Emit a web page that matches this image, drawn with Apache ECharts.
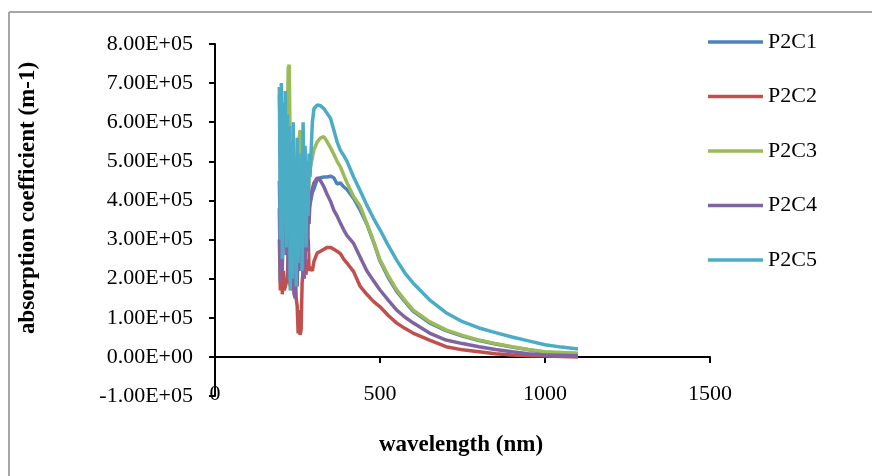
<!DOCTYPE html>
<html>
<head>
<meta charset="utf-8">
<script src="https://cdn.jsdelivr.net/npm/echarts@6/dist/echarts.min.js"></script>
<style>
  html, body { margin: 0; padding: 0; background: #fff; }
  #chart { width: 872px; height: 476px; }
</style>
</head>
<body>
<div id="chart"></div>
<script>
// wavelength (nm): dense part in the noisy UV region, then coarser
var wavelength = [
  195, 198, 201, 204, 207, 210, 213, 216, 219, 222, 225, 228, 231, 234, 237, 240,
  243, 246, 249, 252, 255, 258, 261, 264, 267, 270, 273, 276, 279, 282, 285, 288,
  295, 300, 310, 320, 330, 340, 350, 360, 370, 380, 390, 400, 420, 440, 460, 480,
  500, 525, 550, 575, 600, 650, 700, 750, 800, 850, 900, 950, 1000, 1050, 1100
];

var seriesNames = ['P2C1', 'P2C2', 'P2C3', 'P2C4', 'P2C5'];

// absorption coefficient (m-1)
var p2c1 = [
  4.5e5, 3.0e5, 4.2e5, 2.5e5, 4.0e5, 3.2e5, 4.4e5, 2.6e5, 3.9e5, 3.1e5, 4.3e5, 2.4e5, 3.6e5, 2.2e5, 3.8e5, 2.9e5,
  3.5e5, 2.0e5, 3.3e5, 2.6e5, 3.9e5, 2.8e5, 3.6e5, 3.0e5, 3.4e5, 2.7e5, 3.5e5, 3.1e5, 3.7e5, 3.3e5, 3.8e5, 3.9e5,
  4.2e5, 4.3e5, 4.55e5, 4.58e5, 4.6e5, 4.6e5, 4.62e5, 4.58e5, 4.42e5, 4.45e5, 4.35e5, 4.28e5, 4.05e5, 3.75e5, 3.4e5, 2.95e5,
  2.45e5, 2.03e5, 1.68e5, 1.42e5, 1.17e5, 0.87e5, 0.67e5, 0.53e5, 0.42e5, 0.33e5, 0.25e5, 0.18e5, 0.12e5, 0.1e5, 0.08e5
];
var p2c2 = [
  3.0e5, 1.7e5, 2.4e5, 1.6e5, 2.2e5, 1.7e5, 1.65e5, 1.7e5, 2.0e5, 2.6e5, 2.0e5, 1.8e5, 2.6e5, 1.7e5, 2.1e5, 1.6e5,
  2.2e5, 1.5e5, 1.3e5, 0.6e5, 1.2e5, 0.56e5, 0.7e5, 1.9e5, 2.2e5, 2.0e5, 2.4e5, 2.1e5, 3.0e5, 3.2e5, 2.2e5, 2.3e5,
  2.2e5, 2.45e5, 2.66e5, 2.7e5, 2.75e5, 2.8e5, 2.8e5, 2.75e5, 2.7e5, 2.64e5, 2.5e5, 2.4e5, 2.18e5, 1.8e5, 1.6e5, 1.42e5,
  1.28e5, 1.06e5, 0.87e5, 0.73e5, 0.61e5, 0.43e5, 0.26e5, 0.18e5, 0.13e5, 0.08e5, 0.05e5, 0.03e5, 0.02e5, 0.01e5, 0
];
var p2c3 = [
  6.7e5, 5.5e5, 6.2e5, 4.8e5, 5.8e5, 4.2e5, 5.5e5, 3.8e5, 6.0e5, 7.4e5, 7.47e5, 5.0e5, 4.0e5, 2.8e5, 4.5e5, 3.5e5,
  5.0e5, 3.2e5, 5.2e5, 4.0e5, 5.6e5, 5.8e5, 5.75e5, 5.1e5, 4.6e5, 2.6e5, 3.8e5, 2.5e5, 4.2e5, 3.0e5, 4.6e5, 4.8e5,
  5.1e5, 5.3e5, 5.5e5, 5.6e5, 5.63e5, 5.5e5, 5.35e5, 5.18e5, 5.0e5, 4.86e5, 4.65e5, 4.45e5, 4.1e5, 3.85e5, 3.42e5, 2.97e5,
  2.48e5, 2.08e5, 1.72e5, 1.45e5, 1.2e5, 0.9e5, 0.69e5, 0.55e5, 0.43e5, 0.34e5, 0.26e5, 0.19e5, 0.13e5, 0.11e5, 0.09e5
];
var p2c4 = [
  3.8e5, 1.9e5, 4.0e5, 2.2e5, 4.2e5, 2.8e5, 4.5e5, 3.0e5, 4.3e5, 2.0e5, 3.8e5, 2.4e5, 3.5e5, 1.8e5, 3.2e5, 1.6e5,
  1.5e5, 2.8e5, 1.8e5, 3.0e5, 2.2e5, 3.4e5, 2.5e5, 3.2e5, 2.0e5, 2.9e5, 2.4e5, 3.5e5, 2.7e5, 3.6e5, 3.4e5, 4.0e5,
  4.3e5, 4.45e5, 4.58e5, 4.5e5, 4.35e5, 4.15e5, 3.98e5, 3.75e5, 3.6e5, 3.42e5, 3.25e5, 3.1e5, 2.9e5, 2.55e5, 2.2e5, 1.95e5,
  1.71e5, 1.45e5, 1.2e5, 1.02e5, 0.87e5, 0.61e5, 0.43e5, 0.34e5, 0.26e5, 0.19e5, 0.13e5, 0.08e5, 0.05e5, 0.04e5, 0.03e5
];
var p2c5 = [
  6.9e5, 3.0e5, 7.0e5, 2.5e5, 6.5e5, 3.5e5, 6.8e5, 2.8e5, 6.2e5, 3.2e5, 5.9e5, 1.7e5, 5.5e5, 2.0e5, 6.0e5, 2.6e5,
  5.0e5, 1.8e5, 5.6e5, 2.4e5, 4.9e5, 3.0e5, 5.2e5, 2.2e5, 6.0e5, 3.5e5, 5.4e5, 2.8e5, 5.0e5, 3.6e5, 5.2e5, 4.6e5,
  6.0e5, 6.35e5, 6.44e5, 6.42e5, 6.35e5, 6.22e5, 6.1e5, 5.8e5, 5.5e5, 5.28e5, 5.15e5, 5.0e5, 4.6e5, 4.25e5, 3.88e5, 3.55e5,
  3.25e5, 2.85e5, 2.48e5, 2.15e5, 1.89e5, 1.46e5, 1.13e5, 0.9e5, 0.74e5, 0.62e5, 0.51e5, 0.41e5, 0.31e5, 0.25e5, 0.2e5
];

var colors = ['#4F81BD', '#C0504D', '#9BBB59', '#8064A2', '#4BACC6'];
var values = [p2c1, p2c2, p2c3, p2c4, p2c5];

function sci(v) {
  if (v === 0) return '0.00E+00';
  var e = Math.floor(Math.log10(Math.abs(v)));
  var m = v / Math.pow(10, e);
  return m.toFixed(2) + 'E+' + String(e).padStart(2, '0');
}

var series = seriesNames.map(function (name, i) {
  return {
    name: name,
    type: 'line',
    symbol: 'none',
    lineStyle: { width: 3.5, color: colors[i] },
    itemStyle: { color: colors[i] },
    data: wavelength.map(function (w, k) { return [w, values[i][k]]; })
  };
});

var font = 'Liberation Serif';
var chart = echarts.init(document.getElementById('chart'));
chart.setOption({
  backgroundColor: '#fff',
  animation: false,
  color: colors,
  grid: { left: 215, right: 162, top: 44, bottom: 80 },
  legend: {
    orient: 'vertical',
    left: 703,
    top: 26,
    itemWidth: 55,
    itemHeight: 22,
    itemGap: 32.5,
    icon: 'path://M0,0 L55,0 L55,3.5 L0,3.5 Z',
    symbolKeepAspect: true,
    textStyle: { fontFamily: font, fontSize: 22, color: '#000', lineHeight: 22 },
    data: seriesNames
  },
  xAxis: {
    type: 'value',
    min: 0,
    max: 1500,
    interval: 500,
    axisLine: { onZero: true, lineStyle: { color: '#000', width: 2 } },
    axisTick: { show: true, length: 6, lineStyle: { color: '#000', width: 2 } },
    axisLabel: {
      margin: -13, fontFamily: font, fontSize: 22, color: '#000',
      formatter: function (v) { return String(v); }
    },
    splitLine: { show: false }
  },
  yAxis: {
    type: 'value',
    min: -100000,
    max: 800000,
    interval: 100000,
    axisLine: { show: true, lineStyle: { color: '#000', width: 2 } },
    axisTick: { show: true, length: 6, lineStyle: { color: '#000', width: 2 } },
    axisLabel: { margin: 22, fontFamily: font, fontSize: 22, color: '#000', formatter: sci },
    splitLine: { show: false }
  },
  graphic: [
    { type: 'line', shape: { x1: 9, y1: 12, x2: 872, y2: 12 }, style: { stroke: '#a6a6a6', lineWidth: 2 } },
    { type: 'line', shape: { x1: 9, y1: 12, x2: 9, y2: 476 }, style: { stroke: '#a6a6a6', lineWidth: 2 } },
    {
      type: 'text', x: 28, y: 198, rotation: Math.PI / 2,
      style: {
        text: 'absorption coefficient (m-1)', fontFamily: font, fontWeight: 'bold', fontSize: 23,
        fill: '#000', align: 'center', verticalAlign: 'middle'
      }
    },
    {
      type: 'text', x: 461, y: 445,
      style: {
        text: 'wavelength (nm)', fontFamily: font, fontWeight: 'bold', fontSize: 23,
        fill: '#000', align: 'center', verticalAlign: 'middle'
      }
    }
  ],
  series: series
});
</script>
</body>
</html>
